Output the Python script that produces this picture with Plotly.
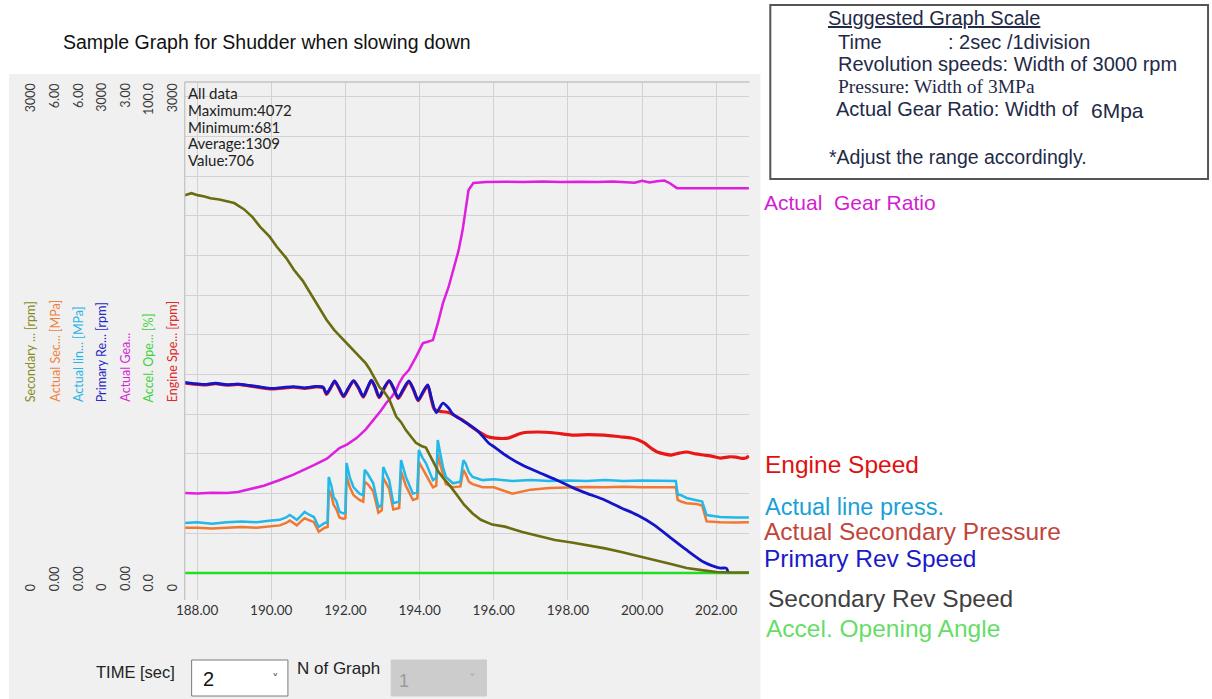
import plotly.graph_objects as go

# ---------------- data ----------------
SEC_T = [187.67, 187.85, 188.01, 188.20, 188.36, 188.60, 189.00, 189.27, 189.50, 189.70, 189.95, 190.15,
         190.40, 190.61, 190.85, 191.04, 191.25, 191.49, 191.70, 191.95, 192.15, 192.38, 192.55, 192.65,
         192.80, 192.92, 193.05, 193.18, 193.37, 193.50, 193.63, 193.80, 193.90, 194.05, 194.17, 194.36,
         194.50, 194.63, 194.80, 194.98, 195.20, 195.43, 195.65, 195.96, 196.30, 196.77, 197.20, 197.65,
         198.10, 198.53, 199.00, 199.44, 199.90, 200.33, 200.75, 201.20, 201.60, 202.01, 202.40, 202.88]
SEC_RPM = [2380, 2392, 2380, 2372, 2360, 2352, 2330, 2290, 2240, 2180, 2120, 2055,
           1985, 1910, 1840, 1765, 1690, 1595, 1530, 1468, 1420, 1358, 1320, 1285,
           1225, 1170, 1140, 1095, 985, 950, 900, 850, 820, 800, 790, 705,
           640, 600, 555, 500, 430, 375, 335, 305, 292, 258, 235, 208,
           192, 176, 155, 132, 108, 82, 58, 31, 18, 6, 3, 3]

ENG_T = [187.67, 187.9, 188.2, 188.5, 188.8, 189.1, 189.4, 189.7, 190.0, 190.3, 190.6, 190.9, 191.2,
         191.40, 191.49, 191.60, 191.71, 191.83, 191.95, 192.08, 192.22, 192.35, 192.48, 192.59, 192.70,
         192.80, 192.91, 193.04, 193.18, 193.30, 193.42, 193.56, 193.71, 193.84, 193.96, 194.09, 194.22,
         194.30, 194.40, 194.55, 194.71, 194.85, 195.00, 195.16, 195.35, 195.59, 195.80, 196.04, 196.39,
         196.60, 196.77, 197.19, 197.65, 198.10, 198.55, 198.99, 199.40, 199.71, 199.90, 200.06, 200.25,
         200.41, 200.78, 201.00, 201.20, 201.45, 201.66, 201.90, 202.11, 202.35, 202.53, 202.70, 202.80, 202.88]
ENG_RPM = [1196, 1190, 1185, 1192, 1183, 1188, 1178, 1168, 1160, 1165, 1170, 1163, 1172,
           1168, 1125, 1165, 1205, 1160, 1110, 1160, 1210, 1165, 1108, 1160, 1212,
           1170, 1105, 1160, 1210, 1160, 1100, 1150, 1205, 1150, 1085, 1135, 1180,
           1110, 1030, 1018, 1014, 1005, 985, 963, 930, 890, 862, 850, 850,
           868, 882, 888, 882, 869, 872, 869, 858, 850, 838, 819, 785,
           762, 743, 755, 762, 750, 743, 735, 724, 732, 730, 722, 724, 738]

PRI_T = [187.67, 187.9, 188.2, 188.5, 188.8, 189.1, 189.4, 189.7, 190.0, 190.3, 190.6, 190.9, 191.2,
         191.40, 191.49, 191.60, 191.71, 191.83, 191.95, 192.08, 192.22, 192.35, 192.48, 192.59, 192.70,
         192.80, 192.91, 193.04, 193.18, 193.30, 193.42, 193.56, 193.71, 193.84, 193.96, 194.09, 194.22,
         194.32, 194.45, 194.63, 194.78, 194.90, 195.16, 195.43, 195.59, 195.86, 196.04, 196.31, 196.77,
         197.19, 197.65, 198.10, 198.53, 198.99, 199.44, 199.87, 200.33, 200.78, 201.20, 201.66, 201.90,
         202.11, 202.27, 202.32]
PRI_RPM = [1200, 1193, 1188, 1195, 1186, 1190, 1182, 1172, 1163, 1168, 1174, 1166, 1175,
           1170, 1130, 1168, 1210, 1165, 1115, 1165, 1212, 1170, 1112, 1165, 1215,
           1172, 1110, 1165, 1212, 1165, 1105, 1158, 1210, 1155, 1090, 1140, 1185,
           1100, 1010, 1070, 1040, 1000, 960, 919, 890, 819, 790, 743, 680,
           636, 590, 541, 500, 460, 410, 365, 302, 220, 145, 69, 45,
           31, 31, 6]

GEAR_T = [187.67, 188.0, 188.4, 188.8, 189.1, 189.35, 189.8, 190.23, 190.6, 191.15, 191.5, 191.84,
          192.05, 192.30, 192.55, 192.75, 192.95, 193.10, 193.25, 193.37, 193.45, 193.56, 193.71, 193.90,
          194.09, 194.20, 194.36, 194.50, 194.63, 194.78, 194.90, 195.05, 195.16, 195.25, 195.32, 195.45,
          195.8, 196.3, 196.8, 197.3, 197.8, 198.3, 198.8, 199.2, 199.5, 199.8, 200.0, 200.2,
          200.4, 200.6, 200.75, 200.94, 201.4, 202.0, 202.5, 202.88]
GEAR_RATIO = [0.504, 0.500, 0.506, 0.504, 0.510, 0.523, 0.550, 0.586, 0.620, 0.680, 0.720, 0.787,
              0.810, 0.850, 0.905, 0.963, 1.020, 1.071, 1.110, 1.152, 1.196, 1.240, 1.278, 1.360,
              1.448, 1.455, 1.467, 1.580, 1.700, 1.800, 1.908, 2.030, 2.160, 2.300, 2.412, 2.456,
              2.462, 2.465, 2.462, 2.466, 2.462, 2.464, 2.462, 2.466, 2.462, 2.458, 2.470, 2.460,
              2.468, 2.472, 2.455, 2.424, 2.424, 2.424, 2.424, 2.424]

PRESS_T = [187.67, 188.0, 188.4, 188.8, 189.2, 189.6, 190.0, 190.23, 190.40, 190.50, 190.60, 190.69,
           190.80, 190.90, 191.00, 191.15, 191.28, 191.44, 191.52, 191.55, 191.62, 191.68, 191.76, 191.84,
           191.95, 192.00, 192.03, 192.12, 192.22, 192.38, 192.48, 192.52, 192.60, 192.75, 192.89, 192.98,
           193.02, 193.10, 193.18, 193.29, 193.45, 193.50, 193.57, 193.63, 193.82, 193.94, 193.98, 194.08,
           194.17, 194.36, 194.45, 194.49, 194.56, 194.63, 194.71, 194.90, 195.10, 195.18, 195.24, 195.33,
           195.43, 195.70, 196.0, 196.5, 197.0, 197.5, 198.0, 198.5, 199.0, 199.5, 200.0, 200.5,
           200.91, 200.96, 201.05, 201.20, 201.47, 201.62, 201.74, 202.11, 202.5, 202.88]
LINE_MPA = [0.63, 0.64, 0.62, 0.64, 0.65, 0.64, 0.66, 0.67, 0.70, 0.73, 0.70, 0.67,
            0.72, 0.77, 0.74, 0.705, 0.58, 0.63, 0.64, 1.21, 1.10, 0.96, 0.90, 0.77,
            0.75, 0.76, 1.385, 1.20, 1.08, 1.00, 0.98, 1.30, 1.25, 1.13, 0.83, 0.86,
            1.335, 1.25, 1.17, 0.88, 0.90, 1.423, 1.30, 1.21, 1.00, 1.02, 1.55, 1.45,
            1.385, 1.17, 1.20, 1.675, 1.50, 1.335, 1.21, 1.13, 1.15, 1.42, 1.38, 1.27,
            1.21, 1.17, 1.18, 1.16, 1.17, 1.16, 1.165, 1.16, 1.17, 1.16, 1.165, 1.16,
            1.16, 0.99, 0.98, 0.945, 0.92, 0.90, 0.73, 0.705, 0.70, 0.70]
SECP_MPA = [0.57, 0.57, 0.56, 0.57, 0.58, 0.57, 0.59, 0.60, 0.63, 0.66, 0.63, 0.60,
            0.65, 0.69, 0.67, 0.64, 0.52, 0.57, 0.58, 1.05, 0.98, 0.86, 0.80, 0.70,
            0.68, 0.69, 1.22, 1.08, 0.98, 0.92, 0.90, 1.15, 1.12, 1.03, 0.76, 0.79,
            1.20, 1.13, 1.06, 0.80, 0.82, 1.28, 1.18, 1.10, 0.92, 0.94, 1.40, 1.32,
            1.25, 1.08, 1.10, 1.50, 1.36, 1.24, 1.12, 1.08, 1.09, 1.30, 1.25, 1.15,
            1.12, 1.08, 1.08, 1.00, 1.05, 1.07, 1.08, 1.083, 1.08, 1.085, 1.08, 1.083,
            1.08, 0.92, 0.90, 0.88, 0.87, 0.85, 0.65, 0.64, 0.635, 0.64]

ACC_T = [187.67, 202.88]
ACC_PCT = [0.0, 0.0]

# axis full-scale values (top labels) and tick texts
AXIS_TOP = ["3000", "6.00", "6.00", "3000", "3.00", "100.0", "3000"]
AXIS_ZERO = ["0", "0.00", "0.00", "0", "0.00", "0.0", "0"]
AXIS_NAMES = ["Secondary ... [rpm]", "Actual Sec... [MPa]", "Actual lin... [MPa]", "Primary Re... [rpm]",
              "Actual Gea...", "Accel. Ope... [%]", "Engine Spe... [rpm]"]
AXIS_COLORS = ["#8a8a1e", "#f0823c", "#28b4e6", "#2828c8", "#d22ad2", "#3cd23c", "#e02828"]
RPM_MAX, MPA_MAX, GEAR_MAX, ACC_MAX = 3000.0, 6.0, 3.0, 100.0
STATS = ["All data", "Maximum:4072", "Minimum:681", "Average:1309", "Value:706"]
X_TICK0, X_DTICK = 188, 2

# ---------------- layout helpers ----------------
W, H = 1212, 699
def px(x):
    return x / W
def py(y):
    return 1 - y / H

PLOT_L, PLOT_R, PLOT_T, PLOT_B = 177, 746, 82, 600
Y_ZERO, Y_FULL = 573.0, 96.7
LO = -(PLOT_B - Y_ZERO) / (Y_ZERO - Y_FULL)
HI = (Y_ZERO - PLOT_T) / (Y_ZERO - Y_FULL)
XPPS = 37.36  # pixels per second
X_LEFT = X_TICK0 + (PLOT_L - 189.5) / XPPS
X_RIGHT = X_TICK0 + (PLOT_R - 189.5) / XPPS

GRID = "#d2d2d2"
fig = go.Figure()

def line(x, y, color, axis, width=2.6, shape="linear"):
    fig.add_trace(go.Scatter(x=x, y=y, mode="lines", yaxis=axis, hoverinfo="skip",
                             line=dict(color=color, width=width, shape=shape, smoothing=0.7)))

line(ACC_T, ACC_PCT, "#22dd22", "y", 2.6)
line(GEAR_T, GEAR_RATIO, "#e01ee0", "y2", 2.5)
line(PRESS_T, SECP_MPA, "#f07830", "y3", 2.5)
line(PRESS_T, LINE_MPA, "#22b8e8", "y3", 2.5)
line(ENG_T, ENG_RPM, "#e81818", "y4", 3.2, "spline")
line(PRI_T, PRI_RPM, "#1414c8", "y4", 2.8, "spline")
line(SEC_T, SEC_RPM, "#6b6b10", "y4", 2.6)

dom_y = [py(PLOT_B), py(PLOT_T)]
fig.update_layout(
    width=W, height=H, autosize=False,
    margin=dict(l=0, r=0, t=0, b=0),
    paper_bgcolor="white", plot_bgcolor="white", showlegend=False,
    xaxis=dict(domain=[px(PLOT_L), px(PLOT_R)], range=[X_LEFT, X_RIGHT],
               tick0=X_TICK0, dtick=X_DTICK, tickformat=".2f", showgrid=True,
               gridcolor=GRID, gridwidth=1.3, zeroline=False, showline=False, ticks="",
               tickfont=dict(family="Lato", size=13.5, color="#333333")),
    yaxis=dict(domain=dom_y, range=[LO * ACC_MAX, HI * ACC_MAX], tick0=0, dtick=ACC_MAX / 12,
               showgrid=True, gridcolor=GRID, gridwidth=1.3, zeroline=False,
               showticklabels=False, ticks=""),
    yaxis2=dict(domain=dom_y, overlaying="y", range=[LO * GEAR_MAX, HI * GEAR_MAX], visible=False),
    yaxis3=dict(domain=dom_y, overlaying="y", range=[LO * MPA_MAX, HI * MPA_MAX], visible=False),
    yaxis4=dict(domain=dom_y, overlaying="y", range=[LO * RPM_MAX, HI * RPM_MAX], visible=False),
)

shapes = [
    # grey application panel
    dict(type="rect", xref="paper", yref="paper", x0=0, x1=px(757), y0=0, y1=py(74),
         fillcolor="#f0f0f0", line=dict(width=0), layer="below"),
    # plot frame (top / left)
    dict(type="line", xref="paper", yref="paper", x0=px(PLOT_L), x1=px(PLOT_R), y0=py(PLOT_T), y1=py(PLOT_T),
         line=dict(color="#c4c4c4", width=1.3), layer="above"),
    dict(type="line", xref="paper", yref="paper", x0=px(PLOT_L), x1=px(PLOT_L), y0=py(PLOT_T), y1=py(PLOT_B),
         line=dict(color="#c4c4c4", width=1.3), layer="above"),
    # suggestion box
    dict(type="rect", xref="paper", yref="paper", x0=px(767), x1=px(1208), y0=py(179), y1=py(5),
         fillcolor="white", line=dict(color="#555555", width=2)),
    # dropdowns
    dict(type="rect", xref="paper", yref="paper", x0=px(184), x1=px(281), y0=py(696), y1=py(660),
         fillcolor="white", line=dict(color="#7a7a7a", width=1)),
    dict(type="rect", xref="paper", yref="paper", x0=px(385), x1=px(481), y0=py(696), y1=py(660),
         fillcolor="#cccccc", line=dict(color="#cccccc", width=1)),
]

ann = []
def text(x, y, s, size, color="#222222", family="Liberation Sans", xanchor="left", yanchor="middle",
         angle=0):
    ann.append(dict(x=px(x), y=py(y), xref="paper", yref="paper", text=s, showarrow=False,
                    xanchor=xanchor, yanchor=yanchor, textangle=angle, borderpad=0,
                    font=dict(family=family, size=size, color=color)))

# title
text(53, 42, "Sample Graph for Shudder when slowing down", 19.5, "#111111")

# left axis column labels
X_COLS = [22, 46, 70, 93, 117, 141, 165]
for xc, top, zero, name, col in zip(X_COLS, AXIS_TOP, AXIS_ZERO, AXIS_NAMES, AXIS_COLORS):
    text(xc, 82, top, 12.5, "#3a3a3a", "Lato", "center", "top", -90)
    text(xc, 592, zero, 12.5, "#3a3a3a", "Lato", "center", "bottom", -90)
    text(xc, 403, name, 12.5, col, "Lato", "center", "bottom", -90)

# stats
for i, s in enumerate(STATS):
    text(179, 93 + i * 16.75, s, 15, "#222222", "Lato")

# right-hand series labels
text(760, 203, "Actual  Gear Ratio", 21, "#d21ed2")
text(761, 464, "Engine Speed", 24.5, "#e01010")
text(761, 507, "Actual line press.", 23.5, "#1aa0d8")
text(760, 531, "Actual Secondary Pressure", 24.5, "#c0453a")
text(760, 558, "Primary Rev Speed", 24.5, "#1a1ac8")
text(764, 598, "Secondary Rev Speed", 24.5, "#404040")
text(762, 628, "Accel. Opening Angle", 24.5, "#66dd66")

# suggestion box content
NAVY = "#1f2a48"
text(824, 18, "<u>Suggested Graph Scale</u>", 20, NAVY)
text(834, 42, "Time", 20, NAVY)
text(945, 42, ": 2sec /1division", 20, NAVY)
text(834, 64, "Revolution speeds: Width of 3000 rpm", 20, NAVY)
text(834, 87, "Pressure: Width of 3MPa", 19.5, NAVY, "Liberation Serif")
text(832, 109, "Actual Gear Ratio: Width of ", 20, NAVY)
text(1089, 110, "6Mpa", 21, NAVY)
text(825, 157, "*Adjust the range accordingly.", 19.5, NAVY)

# bottom controls
text(87, 672, "TIME [sec]", 16.5, "#222222")
text(194, 679, "2", 20, "#111111")
text(268, 678, "˅", 13, "#555555", "DejaVu Sans", "center")
text(289, 668, "N of Graph", 17, "#222222")
text(392, 681, "1", 18, "#9a9a9a")
text(467, 678, "˅", 13, "#aaaaaa", "DejaVu Sans", "center")

fig.update_layout(shapes=shapes, annotations=ann)
POST = ("document.documentElement.style.margin='0';document.body.style.margin='0';"
        "document.body.style.padding='0';document.body.style.overflow='hidden';"
        "var d=document.getElementById('{plot_id}');d.style.position='absolute';"
        "d.style.left='0px';d.style.top='0px';")
fig.write_html("out.html", config={"displayModeBar": False, "responsive": False}, post_script=POST)
